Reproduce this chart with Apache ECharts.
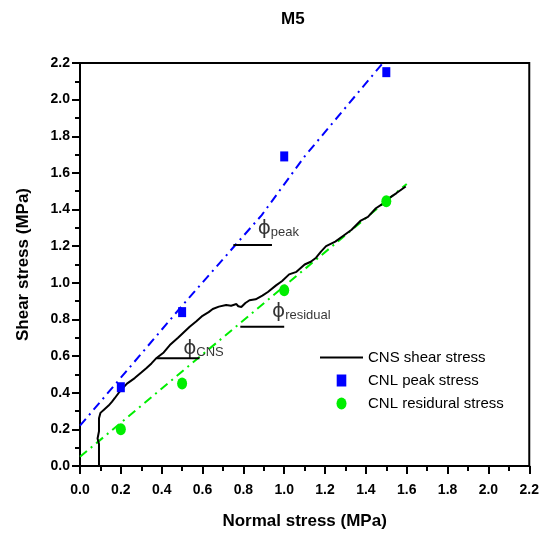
<!DOCTYPE html>
<html>
<head>
<meta charset="utf-8">
<script src="https://cdn.jsdelivr.net/npm/echarts@6/dist/echarts.min.js"></script>
<style>
  html, body { margin: 0; padding: 0; background: #fff; }
  #m5 { width: 542px; height: 535px; }
</style>
</head>
<body>
<div id="m5"></div>
<script>
// M5 - shear stress vs normal stress
const xTicks = ['0.0', '0.2', '0.4', '0.6', '0.8', '1.0', '1.2', '1.4', '1.6', '1.8', '2.0', '2.2']
const yTicks = ['0.0', '0.2', '0.4', '0.6', '0.8', '1.0', '1.2', '1.4', '1.6', '1.8', '2.0', '2.2']

// CNS test curve (stair steps kept roughly)
const cnsX = [0.093, 0.093, 0.086, 0.093, 0.093, 0.10, 0.12, 0.14, 0.156, 0.17, 0.19, 0.205, 0.23, 0.268, 0.30, 0.326, 0.35, 0.375, 0.41, 0.44, 0.48, 0.537, 0.57, 0.60, 0.63, 0.65, 0.68, 0.716, 0.74, 0.766, 0.775, 0.79, 0.81, 0.83, 0.86, 0.893, 0.92, 0.96, 0.99, 1.024, 1.06, 1.10, 1.13, 1.156, 1.18, 1.205, 1.25, 1.293, 1.33, 1.375, 1.41, 1.449, 1.48, 1.512, 1.55, 1.595]
const cnsY = [0.0, 0.12, 0.15, 0.19, 0.26, 0.29, 0.31, 0.33, 0.35, 0.37, 0.40, 0.42, 0.45, 0.48, 0.51, 0.535, 0.56, 0.59, 0.62, 0.66, 0.70, 0.76, 0.79, 0.82, 0.84, 0.857, 0.87, 0.879, 0.875, 0.884, 0.872, 0.868, 0.89, 0.905, 0.91, 0.93, 0.95, 0.986, 1.01, 1.046, 1.06, 1.10, 1.115, 1.137, 1.17, 1.20, 1.225, 1.26, 1.29, 1.34, 1.36, 1.407, 1.43, 1.461, 1.49, 1.526]

// CNL points
const cnlNormal = [0.2, 0.5, 1.0, 1.5]
const cnlPeak = [0.43, 0.84, 1.69, 2.15]
const cnlResidual = [0.20, 0.45, 0.96, 1.445]

// fitted envelopes
const peakFitX = [0.0, 0.5, 0.89, 1.1, 1.483]
const peakFitY = [0.22, 0.875, 1.37, 1.69, 2.2]
const resFitX = [0.0, 1.6]
const resFitY = [0.05, 1.54]

// friction angle markers
const angleNames = ['CNS', 'residual', 'peak']
const angleLineX0 = [0.375, 0.785, 0.751]
const angleLineX1 = [0.585, 1.0, 0.94]
const angleLineY = [0.588, 0.76, 1.207]
const angleTextX = [0.505, 0.94, 0.87]
const angleTextY = [0.655, 0.855, 1.31]

const zip = (a, b) => a.map((v, i) => [v, b[i]])
const font = "'Liberation Sans Narrow', 'Liberation Sans', Arial, sans-serif"

const axisCommon = {
  type: 'value',
  min: 0,
  max: 2.2,
  interval: 0.2,
  nameLocation: 'middle',
  nameTextStyle: { fontFamily: 'Liberation Sans, Arial', fontWeight: 'bold', fontSize: 17, color: '#000' },
  axisLine: { show: true, onZero: false, lineStyle: { color: '#000', width: 2 } },
  axisTick: { show: true, inside: false, length: 8, lineStyle: { color: '#000', width: 2 } },
  minorTick: { show: true, splitNumber: 2, length: 5, lineStyle: { color: '#000', width: 2 } },
  splitLine: { show: false },
  axisLabel: { fontFamily: font, fontWeight: 'bold', fontSize: 14, color: '#000', margin: 10 }
}

const angleSeries = angleNames.map((n, i) => ({
  type: 'line',
  name: 'angle-' + n,
  data: [[angleLineX0[i], angleLineY[i]], [angleLineX1[i], angleLineY[i]]],
  symbol: 'none',
  silent: true,
  lineStyle: { color: '#000', width: 2 },
  z: 3
}))

const option = {
  animation: false,
  backgroundColor: '#fff',
  title: {
    text: 'M5',
    left: 276,
    top: 6,
    textStyle: { fontFamily: 'Liberation Sans, Arial', fontWeight: 'bold', fontSize: 17, color: '#000' }
  },
  grid: {
    left: 80,
    right: 11,
    top: 63,
    bottom: 64,
    show: true,
    borderColor: '#000',
    borderWidth: 2,
    backgroundColor: 'transparent'
  },
  legend: {
    orient: 'vertical',
    left: 315,
    top: 345,
    itemWidth: 43,
    itemHeight: 12,
    itemGap: 8,
    textStyle: { fontFamily: font, fontSize: 15, color: '#000' },
    data: [
      { name: 'CNS shear stress', icon: 'path://M0,5 L43,5 L43,7 L0,7 Z' },
      { name: 'CNL peak stress', icon: 'path://M0,0 L8,0 L8,10 L0,10 Z' },
      { name: 'CNL residural stress', icon: 'path://M5,0 A5,6 0 1,1 5,12 A5,6 0 1,1 5,0 Z' }
    ]
  },
  xAxis: Object.assign({}, axisCommon, {
    name: 'Normal stress (MPa)',
    nameGap: 47,
    axisLabel: Object.assign({}, axisCommon.axisLabel, {
      margin: 17,
      formatter: (v) => xTicks[Math.round(v / 0.2)]
    })
  }),
  yAxis: Object.assign({}, axisCommon, {
    name: 'Shear stress (MPa)',
    nameGap: 48,
    axisLabel: Object.assign({}, axisCommon.axisLabel, {
      formatter: (v) => yTicks[Math.round(v / 0.2)]
    })
  }),
  series: [
    {
      type: 'line',
      name: 'CNS shear stress',
      data: zip(cnsX, cnsY),
      symbol: 'none',
      lineStyle: { color: '#000', width: 2 },
      itemStyle: { color: '#000' },
      z: 4
    },
    {
      type: 'scatter',
      name: 'CNL peak stress',
      data: zip(cnlNormal, cnlPeak),
      symbol: 'rect',
      symbolSize: [8, 10],
      itemStyle: { color: '#0000ff', opacity: 1 },
      z: 5
    },
    {
      type: 'scatter',
      name: 'CNL residural stress',
      data: zip(cnlNormal, cnlResidual),
      symbol: 'circle',
      symbolSize: [10, 12],
      itemStyle: { color: '#00ee00', opacity: 1 },
      z: 5
    },
    {
      type: 'line',
      name: 'peak fit',
      data: zip(peakFitX, peakFitY),
      symbol: 'none',
      silent: true,
      lineStyle: { color: '#0000ff', width: 2, type: [9, 5, 2, 5] },
      z: 2
    },
    {
      type: 'line',
      name: 'residual fit',
      data: zip(resFitX, resFitY),
      symbol: 'none',
      silent: true,
      lineStyle: { color: '#00ee00', width: 2, type: [9, 5, 2, 5] },
      z: 2
    },
    ...angleSeries,
    {
      type: 'scatter',
      name: 'angle labels',
      silent: true,
      symbolSize: 0,
      data: zip(angleTextX, angleTextY).map((p, i) => ({ value: p, name: angleNames[i] })),
      label: {
        show: true,
        position: 'inside',
        align: 'left',
        formatter: (p) => '{phi|ϕ}{sub|' + p.name + '}',
        rich: {
          phi: { fontFamily: 'DejaVu Sans', fontSize: 20, color: '#000', verticalAlign: 'bottom' },
          sub: { fontFamily: font, fontSize: 13, color: '#000', padding: [12, 0, 0, 0] }
        }
      }
    }
  ]
}

const chart = echarts.init(document.getElementById('m5'))
chart.setOption(option)
</script>
</body>
</html>
